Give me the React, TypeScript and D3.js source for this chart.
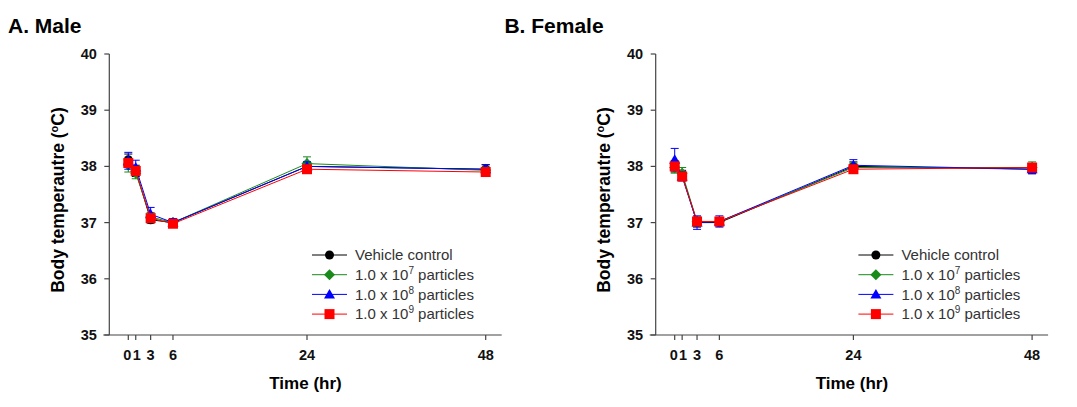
import * as d3 from 'd3';

const times = [0, 1, 3, 6, 24, 48];
const yTicks = [35, 36, 37, 38, 39, 40];

const seriesNames = ['Vehicle control', '1.0 x 10|7| particles', '1.0 x 10|8| particles', '1.0 x 10|9| particles'];
const seriesColors = ['#000000', '#1a8a1a', '#0000ff', '#ff0000'];
const seriesShapes = ['circle', 'diamond', 'triangle', 'square'];

// Male: mean and SE per series
const maleMeans = [
    [38.12, 37.92, 37.05, 37.0, 38.0, 37.95],
    [38.02, 37.88, 37.1, 37.0, 38.05, 37.93],
    [38.1, 37.98, 37.15, 37.0, 38.0, 37.95],
    [38.06, 37.92, 37.08, 36.98, 37.95, 37.9],
];
const maleErr = [
    [0.1, 0.1, 0.06, 0.06, 0.08, 0.08],
    [0.12, 0.1, 0.08, 0.06, 0.12, 0.06],
    [0.15, 0.13, 0.12, 0.07, 0.08, 0.08],
    [0.06, 0.06, 0.05, 0.05, 0.06, 0.06],
];

// Female
const femaleMeans = [
    [38.0, 37.85, 37.0, 37.0, 38.0, 37.95],
    [37.98, 37.88, 37.02, 37.02, 37.98, 37.98],
    [38.12, 37.82, 37.0, 37.02, 38.02, 37.95],
    [38.0, 37.82, 37.02, 37.02, 37.95, 37.98],
];
const femaleErr = [
    [0.1, 0.08, 0.08, 0.06, 0.08, 0.08],
    [0.1, 0.1, 0.08, 0.06, 0.08, 0.1],
    [0.2, 0.08, 0.12, 0.1, 0.1, 0.08],
    [0.06, 0.06, 0.05, 0.05, 0.06, 0.06],
];

const font = 'Arial, "Liberation Sans", sans-serif';

function Marker({ shape, x, y, color }: { shape: string; x: number; y: number; color: string }) {
    if (shape === 'circle') return <circle cx={x} cy={y} r={4.5} fill={color} />;
    if (shape === 'diamond')
        return <path d={`M${x},${y - 5.5}L${x + 5.5},${y}L${x},${y + 5.5}L${x - 5.5},${y}Z`} fill={color} />;
    if (shape === 'triangle')
        return <path d={`M${x},${y - 5.5}L${x + 5.5},${y + 4}L${x - 5.5},${y + 4}Z`} fill={color} />;
    return <rect x={x - 5} y={y - 5} width={10} height={10} fill={color} />;
}

function LegendText({ label, x, y }: { label: string; x: number; y: number }) {
    const parts = label.split('|');
    return (
        <text x={x} y={y} style={{ font: `15px ${font}`, fill: '#333' }} dy="0.35em">
            {parts[0]}
            {parts[1] && <tspan dy="-6" fontSize="10">{parts[1]}</tspan>}
            {parts[2] && <tspan dy="6">{parts[2]}</tspan>}
        </text>
    );
}

function Panel({ offset, title, titleX, means, errs }: { offset: number; title: string; titleX: number; means: number[][]; errs: number[][] }) {
    const x = d3.scaleLinear().domain([0, 48]).range([128.3, 485.7]);
    const y = d3.scaleLinear().domain([35, 40]).range([335, 54]);
    const axisX = 109.3;

    const line = d3.line<number>().x((_, i) => x(times[i])).y(d => y(d));

    return (
        <g transform={`translate(${offset},0)`}>
            <text x={titleX} y={33} style={{ font: `bold 21px ${font}`, fill: '#000' }}>{title}</text>

            {/* y axis */}
            <line x1={axisX} x2={axisX} y1={y(40)} y2={y(35)} stroke="#444" strokeWidth={1.2} />
            {yTicks.map(t => (
                <g key={t} transform={`translate(0,${y(t)})`}>
                    <line x1={axisX - 5} x2={axisX} stroke="#444" strokeWidth={1.2} />
                    <text x={axisX - 12.5} dy="0.35em" textAnchor="end" style={{ font: `bold 14.5px ${font}`, fill: '#111' }}>{t}</text>
                </g>
            ))}
            <text transform={`translate(64,200) rotate(-90)`} textAnchor="middle"
                style={{ font: `bold 17.5px ${font}`, fill: '#000' }}>
                Body temperautre (<tspan dy="-6" fontSize="11">o</tspan><tspan dy="6">C)</tspan>
            </text>

            {/* x axis */}
            <line x1={103.3} x2={501.7} y1={y(35)} y2={y(35)} stroke="#444" strokeWidth={1.2} />
            {times.map(t => (
                <line key={t} x1={x(t)} x2={x(t)} y1={y(35)} y2={y(35) + 5} stroke="#444" strokeWidth={1.2} />
            ))}
            {times.map(t => {
                const dx = t === 0 ? -1 : t === 1 ? 1 : 0;
                return (
                    <text key={t} x={x(t) + dx} y={360} textAnchor="middle" style={{ font: `bold 14.5px ${font}`, fill: '#111' }}>{t}</text>
                );
            })}
            <text x={305.5} y={389} textAnchor="middle" style={{ font: `bold 17px ${font}`, fill: '#000' }}>Time (hr)</text>

            {/* series */}
            {means.map((m, s) => (
                <g key={s}>
                    <path d={line(m) || ''} fill="none" stroke={seriesColors[s]} strokeWidth={1} />
                    {m.map((v, i) => {
                        const cx = x(times[i]);
                        const e = errs[s][i];
                        return (
                            <g key={i} stroke={seriesColors[s]} strokeWidth={1}>
                                <line x1={cx} x2={cx} y1={y(v - e)} y2={y(v + e)} />
                                <line x1={cx - 4} x2={cx + 4} y1={y(v + e)} y2={y(v + e)} />
                                <line x1={cx - 4} x2={cx + 4} y1={y(v - e)} y2={y(v - e)} />
                            </g>
                        );
                    })}
                    {m.map((v, i) => (
                        <Marker key={i} shape={seriesShapes[s]} x={x(times[i])} y={y(v)} color={seriesColors[s]} />
                    ))}
                </g>
            ))}

            {/* legend */}
            {seriesNames.map((name, s) => {
                const ly = 255 + s * 19.7;
                return (
                    <g key={name}>
                        <line x1={312} x2={347} y1={ly} y2={ly} stroke={seriesColors[s]} strokeWidth={1} />
                        <Marker shape={seriesShapes[s]} x={329.5} y={ly} color={seriesColors[s]} />
                        <LegendText label={name} x={355} y={ly} />
                    </g>
                );
            })}
        </g>
    );
}

export default function App() {
    return (
        <svg width={1077} height={407} style={{ position: 'absolute', left: 0, top: 0, background: '#fff' }}>
            <Panel offset={0} title="A. Male" titleX={8} means={maleMeans} errs={maleErr} />
            <Panel offset={546.4} title="B. Female" titleX={-42} means={femaleMeans} errs={femaleErr} />
        </svg>
    );
}
